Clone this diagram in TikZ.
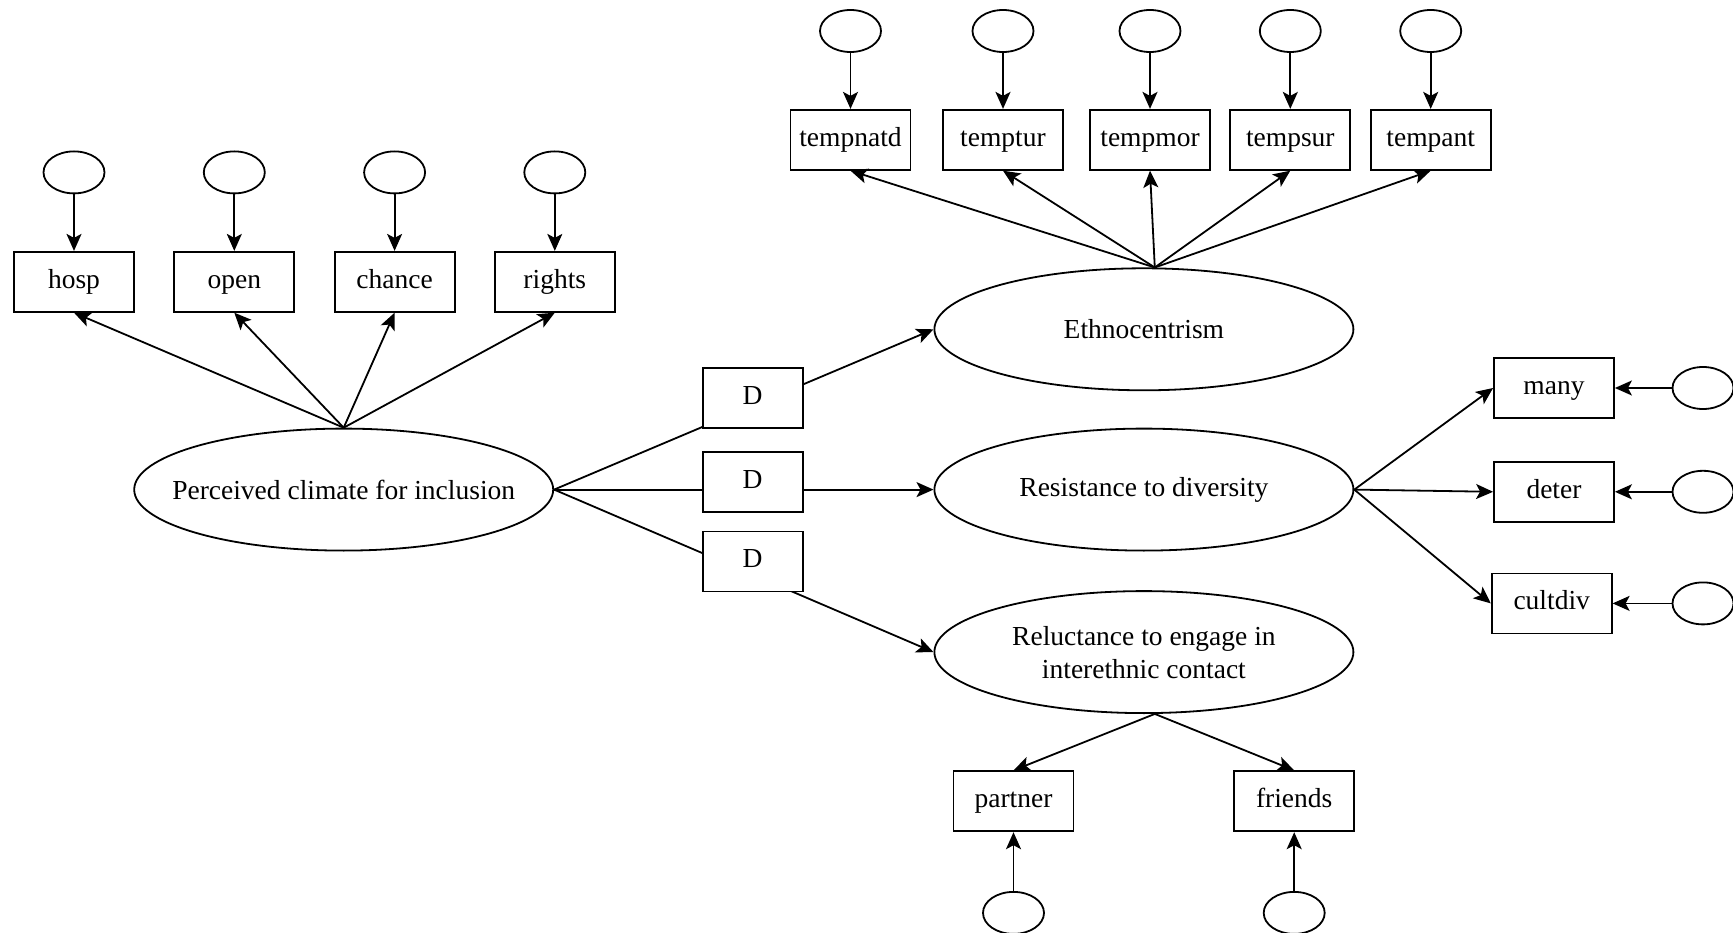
\documentclass[tikz,border=0pt]{standalone}
\usepackage{fontspec}
\setmainfont{Liberation Serif}
\usetikzlibrary{shapes.geometric,arrows.meta}
\begin{document}
\begin{tikzpicture}[x=1pt,y=-1pt,
  font=\fontsize{27.5}{33}\selectfont,
  box/.style={draw, line width=1.8pt, fill=white, rectangle, minimum width=120pt, minimum height=60pt, inner sep=0pt, text height=19pt, text depth=6pt},
  err/.style={draw, line width=1.8pt, fill=white, ellipse, minimum width=61pt, minimum height=42pt, inner sep=0pt},
  lat/.style={draw, line width=1.8pt, fill=white, ellipse, minimum width=419pt, minimum height=122pt, inner xsep=-60pt, inner ysep=0pt, align=center},
  dbox/.style={draw, line width=1.8pt, fill=white, rectangle, minimum width=100pt, minimum height=60pt, inner sep=0pt, text height=19pt, text depth=6pt},
  arr/.style={-{Stealth[length=17pt,width=15pt,inset=4pt]}, line width=1.8pt}]
\useasboundingbox (0,0) rectangle (1733,933);

% latent variables
\node[lat] (perc) at (343.7,489.6) {Perceived climate for inclusion};
\node[lat] (eth) at (1143.9,329.3) {Ethnocentrism};
\node[lat] (res) at (1143.9,489.6) {Resistance to diversity};
\node[lat] (rel) at (1143.9,652.1) {Reluctance to engage in\\interethnic contact};

% left indicators
\node[box] (hosp) at (74,281.8) {hosp};
\node[box] (open) at (234.3,281.8) {open};
\node[box] (chance) at (394.6,281.8) {chance};
\node[box] (rights) at (554.8,281.8) {rights};
\node[err] (e1) at (74,172.4) {};
\node[err] (e2) at (234.3,172.4) {};
\node[err] (e3) at (394.6,172.4) {};
\node[err] (e4) at (554.8,172.4) {};

% top indicators
\node[box] (tnat) at (850.5,139.8) {tempnatd};
\node[box] (ttur) at (1003,139.8) {temptur};
\node[box] (tmor) at (1150,139.8) {tempmor};
\node[box] (tsur) at (1290.3,139.8) {tempsur};
\node[box] (tant) at (1430.7,139.8) {tempant};
\node[err] (e5) at (850.5,31) {};
\node[err] (e6) at (1003,31) {};
\node[err] (e7) at (1150,31) {};
\node[err] (e8) at (1290.3,31) {};
\node[err] (e9) at (1430.7,31) {};

% right indicators
\node[box] (many) at (1554,388) {many};
\node[box] (deter) at (1554,491.8) {deter};
\node[box] (cult) at (1551.7,603.4) {cultdiv};
\node[err] (e10) at (1703,388) {};
\node[err] (e11) at (1703,491.8) {};
\node[err] (e12) at (1703,603.4) {};

% bottom indicators
\node[box] (partner) at (1013.5,801.3) {partner};
\node[box] (friends) at (1294.2,801.3) {friends};
\node[err] (e13) at (1013.5,912.9) {};
\node[err] (e14) at (1294.2,912.9) {};

% loadings
\foreach \t in {hosp,open,chance,rights} \draw[arr] (perc.north) -- (\t.south);
\foreach \t in {tnat,ttur,tmor,tsur,tant} \draw[arr] (eth.80) -- (\t.south);
\foreach \t in {many,deter,cult} \draw[arr] (res.east) -- (\t.west);
\foreach \t in {partner,friends} \draw[arr] (rel.280) -- (\t.north);

% errors
\draw[arr] (e1) -- (hosp);
\draw[arr] (e2) -- (open);
\draw[arr] (e3) -- (chance);
\draw[arr] (e4) -- (rights);
\draw[arr] (e5) -- (tnat);
\draw[arr] (e6) -- (ttur);
\draw[arr] (e7) -- (tmor);
\draw[arr] (e8) -- (tsur);
\draw[arr] (e9) -- (tant);
\draw[arr] (e10) -- (many);
\draw[arr] (e11) -- (deter);
\draw[arr] (e12) -- (cult);
\draw[arr] (e13) -- (partner);
\draw[arr] (e14) -- (friends);

% structural paths
\draw[arr] (perc.east) -- (eth.west);
\draw[arr] (perc.east) -- (res.west);
\draw[arr] (perc.east) -- (rel.west);

% D boxes on top
\node[dbox] (d1) at (752.6,397.9) {D};
\node[dbox] (d2) at (752.6,481.9) {D};
\node[dbox] (d3) at (752.6,561.4) {D};
\end{tikzpicture}
\end{document}
